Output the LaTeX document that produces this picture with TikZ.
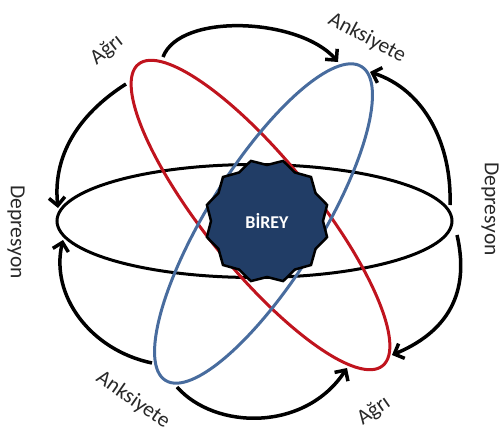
\documentclass[tikz,border=0pt]{standalone}
\usepackage{fontspec}
\setmainfont{Carlito}
\usetikzlibrary{arrows.meta,shapes.geometric}
\definecolor{navy}{RGB}{33,61,102}
\definecolor{ered}{RGB}{192,20,30}
\definecolor{eblue}{RGB}{72,108,158}
\definecolor{lbl}{RGB}{40,40,40}
\begin{document}
\begin{tikzpicture}[x=1pt,y=-1pt,
  orb/.style={line width=3pt},
  cyc/.style={line width=3.5pt,-{Straight Barb[length=8pt,width=16pt]}},
  lab/.style={font=\fontsize{21.5}{24}\selectfont,text=lbl,inner sep=0pt}]
\useasboundingbox (0,0) rectangle (503,437);
% arc end points
\coordinate (a1s) at (163,57);  \coordinate (a1e) at (338,62);
\coordinate (a2s) at (450,205); \coordinate (a2e) at (370,72);
\coordinate (a3s) at (457,235); \coordinate (a3e) at (392,355);
\coordinate (a4s) at (177,387); \coordinate (a4e) at (347,368);
\coordinate (a5s) at (152,363); \coordinate (a5e) at (63,240);
\coordinate (a6s) at (126,84);  \coordinate (a6e) at (58,208);
% cycle arcs
\draw[cyc] (a1s) .. controls (180,12) and (300,18) .. (a1e);
\draw[cyc] (a2s) .. controls (452,145) and (425,90) .. (a2e);
\draw[cyc] (a3s) .. controls (472,300) and (440,335) .. (a3e);
\draw[cyc] (a4s) .. controls (215,430) and (305,432) .. (a4e);
\draw[cyc] (a5s) .. controls (90,350) and (50,295) .. (a5e);
\draw[cyc] (a6s) .. controls (85,110) and (52,150) .. (a6e);
% orbits
\coordinate (cb) at (254.5,221);
\draw[orb] (cb) ellipse [x radius=197.5, y radius=56.5];
\coordinate (cr) at (260.5,215);
\draw[orb,ered,rotate around={-51:(cr)}] (cr) ellipse [x radius=194, y radius=55];
\coordinate (cu) at (263.5,223.5);
\draw[orb,eblue,rotate around={58:(cu)}] (cu) ellipse [x radius=185, y radius=56];
% centre
\node[star,star points=12,star point ratio=0.9,minimum size=112pt,draw=black,
  line width=2.5pt,fill=navy,inner sep=0pt,text=white,
  font=\bfseries\fontsize{18}{20}\selectfont] (birey) at (267,221) {BİREY};
% labels
\node[lab,rotate=38]  (l1) at (107,50)  {Ağrı};
\node[lab,rotate=-28] (l2) at (367,38)  {Anksiyete};
\node[lab,rotate=-90] (l3) at (490,209) {Depresyon};
\node[lab,rotate=-90] (l4) at (16,232)  {Depresyon};
\node[lab,rotate=35]  (l5) at (374,411) {Ağrı};
\node[lab,rotate=-35] (l6) at (133,400) {Anksiyete};
\end{tikzpicture}
\end{document}
